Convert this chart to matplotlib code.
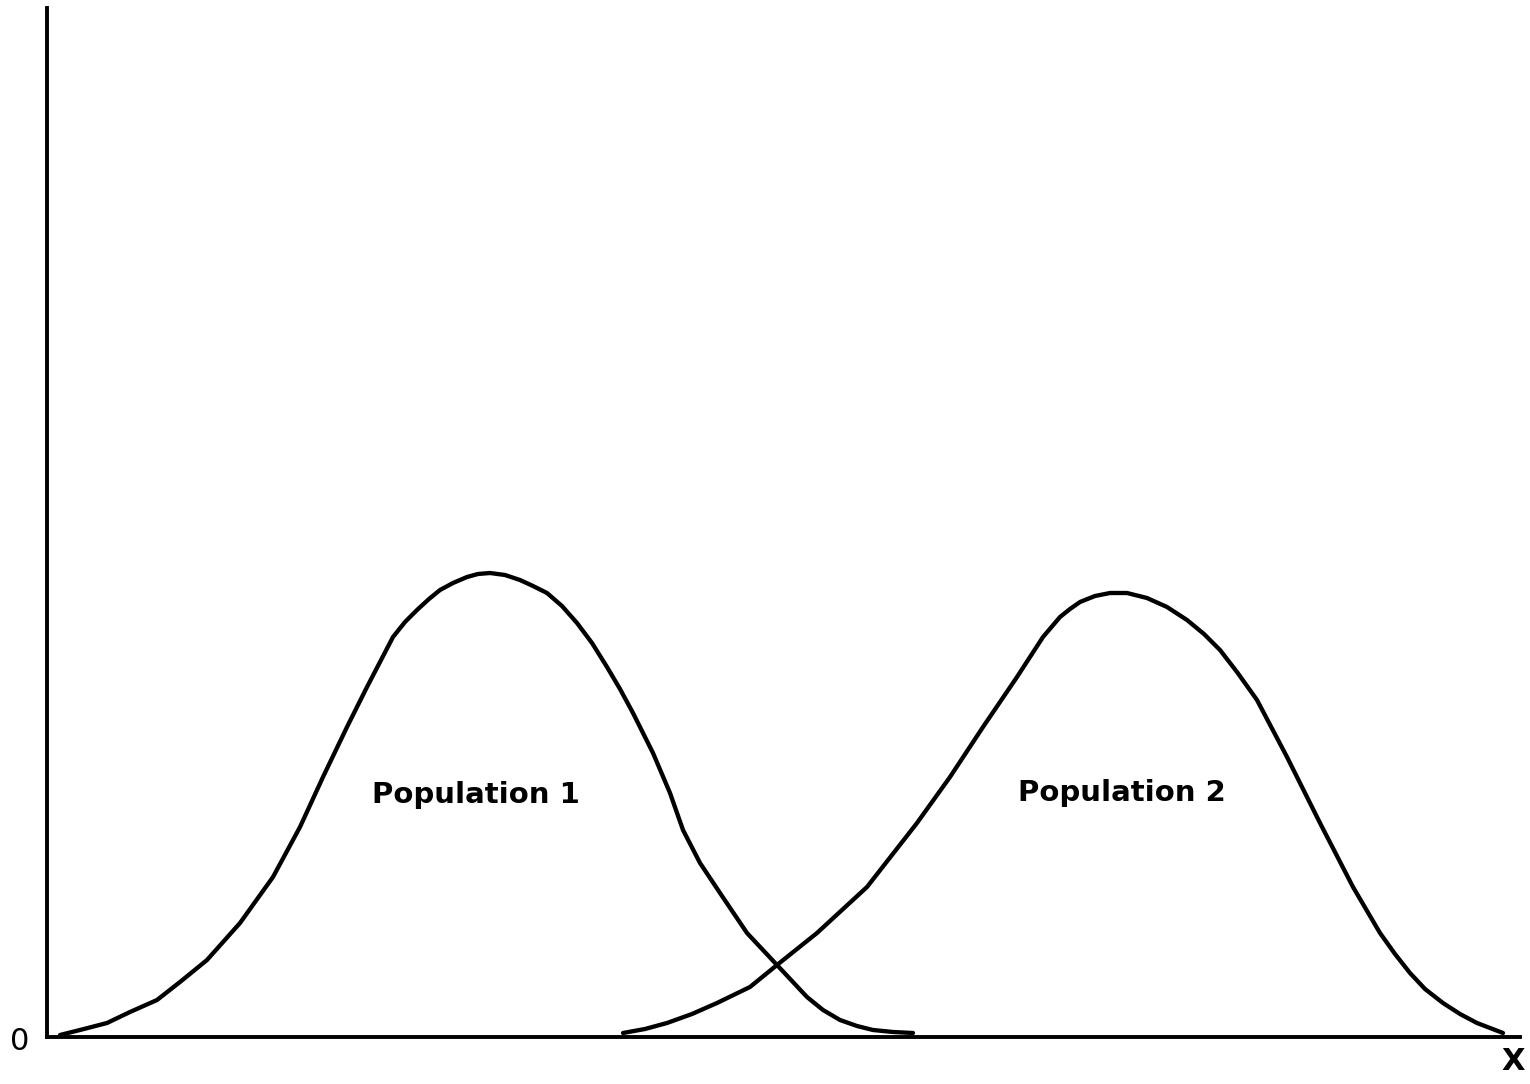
import matplotlib.pyplot as plt

# curve points (x right from the y axis, y up from the x axis)
pop1_x = [13, 33, 60, 83, 110, 133, 160, 193, 226, 253, 276, 300, 320, 346, 358, 370,
          382, 393, 406, 420, 431, 443, 458, 473, 486, 500, 515, 530, 545, 560, 573,
          586, 606, 623, 636, 653, 673, 700, 730, 760, 776, 793, 810, 826, 846, 866]
pop1_y = [2, 7, 14, 25, 37, 55, 77, 114, 160, 210, 260, 310, 350, 400, 415, 427,
          438, 447, 454, 460, 463, 464, 462, 457, 451, 444, 431, 414, 394, 370, 348,
          324, 284, 244, 207, 174, 144, 104, 72, 40, 27, 17, 11, 7, 5, 4]
pop2_x = [576, 598, 620, 645, 670, 703, 730, 770, 820, 870, 903, 936, 970, 996, 1013,
          1023, 1033, 1048, 1063, 1080, 1100, 1120, 1140, 1157, 1173, 1190, 1210, 1240,
          1273, 1306, 1333, 1348, 1363, 1378, 1396, 1413, 1430, 1456]
pop2_y = [4, 8, 14, 23, 34, 50, 72, 104, 150, 214, 260, 310, 360, 400, 420,
          428, 435, 441, 444, 444, 439, 430, 417, 403, 387, 365, 337, 280,
          214, 150, 104, 83, 64, 48, 34, 23, 14, 4]

labels = ['Population 1', 'Population 2']
label_x = [429, 1075]
label_y = [242, 244]

fig = plt.figure(figsize=(15.3, 10.84), dpi=100)
ax = fig.add_axes([47 / 1530, 47 / 1084, 1473 / 1530, 1029 / 1084])

ax.plot(pop1_x, pop1_y, color='black', linewidth=3.1, solid_capstyle='round',
        solid_joinstyle='round')
ax.plot(pop2_x, pop2_y, color='black', linewidth=3.1, solid_capstyle='round',
        solid_joinstyle='round')

for txt, tx, ty in zip(labels, label_x, label_y):
    ax.text(tx, ty, txt, ha='center', va='center', fontsize=21, fontweight='semibold')

ax.set_xlim(0, 1473)
ax.set_ylim(0, 1029)
for side in ['top', 'right']:
    ax.spines[side].set_visible(False)
for side in ['left', 'bottom']:
    ax.spines[side].set_linewidth(2.8)
ax.set_xticks([])
ax.set_yticks([])

ax.text(-27, -5, '0', ha='center', va='center', fontsize=22)
ax.text(1466, -25, 'X', ha='center', va='center', fontsize=22, fontweight='bold')

fig.savefig('out.png', dpi=100, facecolor='white')
